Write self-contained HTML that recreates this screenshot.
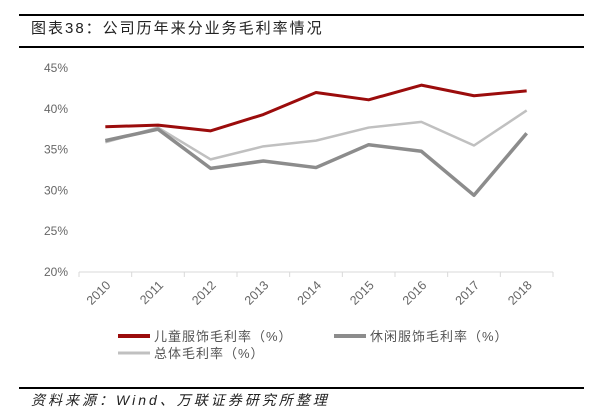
<!DOCTYPE html>
<html><head><meta charset="utf-8"><style>
body{margin:0;background:#fff;font-family:"Liberation Sans","Noto Sans CJK SC",sans-serif;}
#wrap{position:relative;width:603px;height:412px;overflow:hidden;}
</style></head><body>
<div id="wrap">
<svg width="603" height="412">
<line x1="19" y1="15" x2="584" y2="15" stroke="#000" stroke-width="2"/>
<text x="31" y="33" font-size="15" fill="#222" letter-spacing="2" font-family="Liberation Sans,Noto Sans CJK SC,sans-serif">图表38：公司历年来分业务毛利率情况</text>
<line x1="19" y1="47" x2="584" y2="47" stroke="#000" stroke-width="2"/>
<g id="grid"></g><g id="series"></g>
<g>
<line x1="118" y1="336" x2="150" y2="336" stroke="#9b0c0c" stroke-width="4"/>
<text x="154" y="341" font-size="13" fill="#555" letter-spacing="1">儿童服饰毛利率（%）</text>
<line x1="334" y1="336" x2="366" y2="336" stroke="#8c8c8c" stroke-width="4"/>
<text x="370" y="341" font-size="13" fill="#555" letter-spacing="1">休闲服饰毛利率（%）</text>
<line x1="118" y1="353" x2="150" y2="353" stroke="#c0c0c0" stroke-width="3"/>
<text x="154" y="358" font-size="13" fill="#555" letter-spacing="1">总体毛利率（%）</text>
</g>
<line x1="19" y1="388" x2="584" y2="388" stroke="#000" stroke-width="2"/>
<text x="31" y="405" font-size="14" font-style="italic" fill="#222" letter-spacing="3">资料来源：Wind、万联证券研究所整理</text>
</svg>
</div>
<script>
const categories=["2010","2011","2012","2013","2014","2015","2016","2017","2018"];
const kidsValues=[37.8,38.0,37.3,39.3,42.0,41.1,42.9,41.6,42.2];
const casualValues=[36.1,37.5,32.7,33.6,32.8,35.6,34.8,29.4,37.0];
const totalValues=[35.9,37.7,33.8,35.4,36.1,37.7,38.4,35.5,39.8];
const yTicks=[20,25,30,35,40,45];
const NS="http://www.w3.org/2000/svg";
const x0=79,x1=553,yTop=68,yBot=272,yMin=20,yMax=45;
const band=(x1-x0)/categories.length;
function xs(i){return x0+band*(i+0.5);}
function ys(v){return yBot-(v-yMin)/(yMax-yMin)*(yBot-yTop);}
const grid=document.getElementById('grid');
function mk(tag,attrs,parent){const e=document.createElementNS(NS,tag);for(const k in attrs)e.setAttribute(k,attrs[k]);parent.appendChild(e);return e;}
yTicks.forEach(t=>{
  const tx=mk('text',{x:68,y:ys(t)+4,'text-anchor':'end','font-size':12,fill:'#666'},grid);
  tx.textContent=t+'%';
  
  
});
const ax=mk('line',{x1:x0,y1:yBot,x2:x1,y2:yBot,stroke:'#d9d9d9','stroke-width':1},grid);


for(let i=0;i<=categories.length;i++){
  const x=x0+band*i;
  const tk=mk('line',{x1:x,y1:yBot,x2:x,y2:yBot+5,stroke:'#d9d9d9'},grid);
  
  
}
categories.forEach((c,i)=>{
  const x=xs(i)+6,y=yBot+14;
  const tx=mk('text',{x:x,y:y,'text-anchor':'end','font-size':12.5,fill:'#666',transform:`rotate(-45 ${x} ${y})`},grid);
  tx.textContent=c;
  
  
});
const ser=document.getElementById('series');
function line(vals,color,w,name){
  const p=mk('polyline',{points:vals.map((v,i)=>xs(i)+','+ys(v)).join(' '),fill:'none',stroke:color,'stroke-width':w,'stroke-linejoin':'round'},ser);
  
  
}
line(totalValues,'#c0c0c0',2.5,'total-margin-line');
line(casualValues,'#8c8c8c',3.5,'casual-margin-line');
line(kidsValues,'#9b0c0c',3,'kids-margin-line');
</script>
</body></html>
